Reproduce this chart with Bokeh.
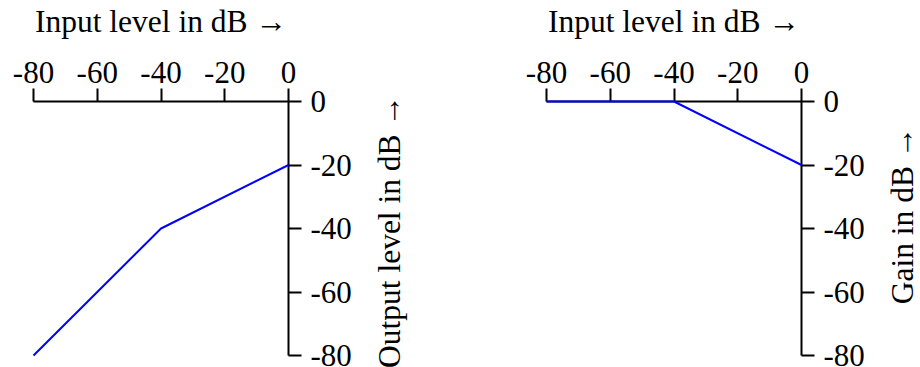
from bokeh.plotting import figure
from bokeh.layouts import row
from bokeh.models import Range1d, FixedTicker
from bokeh.embed import file_html
from bokeh.resources import INLINE

# data
input_db = [-80, -40, 0]
output_db = [-80, -40, -20]
gain_db = [0, 0, -20]
ticks = [-80, -60, -40, -20, 0]
tick_labels = {t: str(t) for t in ticks}
x_title = "Input level in dB \u2192"
y_titles = ["Output level in dB \u2192", "Gain in dB \u2192"]

FONT = "Liberation Serif"
TICK_FS = "31px"
LABEL_FS = "31.5px"
H = 367


def make(width, border_left, border_right, ys):
    p = figure(width=width, height=H, output_backend="svg", toolbar_location=None,
               x_axis_location="above", y_axis_location="right",
               x_range=Range1d(-80, 0), y_range=Range1d(-80, 0),
               min_border_left=border_left, min_border_right=border_right,
               min_border_top=101, min_border_bottom=12)
    p.frame_align = False
    p.outline_line_color = None
    p.grid.visible = False
    p.line(input_db, ys, line_color="#0000ff", line_width=2, level="overlay")
    for ax in (p.xaxis[0], p.yaxis[0]):
        ax.ticker = FixedTicker(ticks=ticks)
        ax.major_label_overrides = tick_labels
        ax.minor_tick_line_color = None
        ax.major_tick_in = 0
        ax.major_tick_out = 13
        ax.axis_line_width = 2
        ax.major_tick_line_width = 2
        ax.axis_line_color = "black"
        ax.major_tick_line_color = "black"
        ax.major_label_text_font = FONT
        ax.major_label_text_font_size = TICK_FS
        ax.major_label_text_color = "black"
        ax.axis_label_text_font = FONT
        ax.axis_label_text_font_size = LABEL_FS
        ax.axis_label_text_font_style = "normal"
        ax.axis_label_text_color = "black"
    p.xaxis[0].axis_label = x_title
    p.xaxis[0].major_label_standoff = 6
    p.xaxis[0].axis_label_standoff = 20
    p.yaxis[0].major_label_standoff = 9
    return p


def side_title(width, border_left, frame_top, frame_bottom, text, standoff):
    # narrow companion figure whose (otherwise empty) left axis carries the
    # vertical title that reads upward
    h = figure(width=width, height=H, output_backend="svg", toolbar_location=None,
               x_axis_location=None, y_axis_location="left",
               x_range=Range1d(0, 1), y_range=Range1d(0, 1),
               min_border_left=border_left, min_border_right=0,
               min_border_top=frame_top, min_border_bottom=H - frame_bottom)
    h.frame_align = False
    h.outline_line_color = None
    h.grid.visible = False
    ax = h.yaxis[0]
    ax.ticker = FixedTicker(ticks=[])
    ax.axis_line_color = None
    ax.major_tick_line_color = None
    ax.minor_tick_line_color = None
    ax.major_tick_in = 0
    ax.major_tick_out = 0
    ax.major_label_standoff = 0
    ax.axis_label = text
    ax.axis_label_standoff = standoff
    ax.axis_label_text_font = FONT
    ax.axis_label_text_font_size = LABEL_FS
    ax.axis_label_text_font_style = "normal"
    ax.axis_label_text_color = "black"
    return h


p1 = make(360, 33, 72, output_db)
h1 = side_title(57, 47, 102, 360, y_titles[0], 1)
p2 = make(456, 129, 72, gain_db)
h2 = side_title(47, 45, 102, 328, y_titles[1], -1)

layout = row(p1, h1, p2, h2)
open("out.html", "w").write(file_html(layout, INLINE))
